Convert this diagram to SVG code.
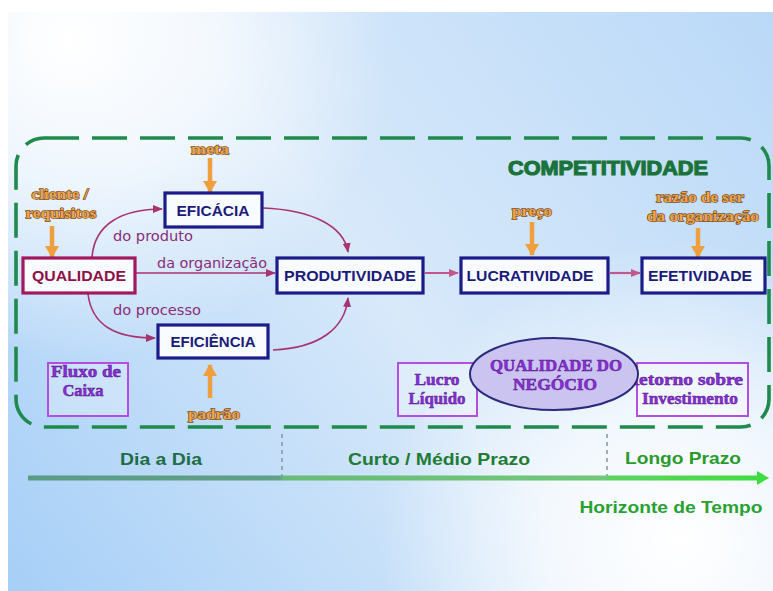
<svg xmlns="http://www.w3.org/2000/svg" width="773" height="591" viewBox="0 0 773 591">
<defs>
<linearGradient id="bg" gradientUnits="userSpaceOnUse" x1="8" y1="591" x2="773" y2="12">
<stop offset="0" stop-color="#a6cff7"/>
<stop offset="0.5" stop-color="#d8e9fa"/>
<stop offset="1" stop-color="#bad9f8"/>
</linearGradient>
<radialGradient id="hl1" gradientUnits="userSpaceOnUse" cx="70" cy="40" r="320">
<stop offset="0" stop-color="#ffffff" stop-opacity="1"/>
<stop offset="0.45" stop-color="#ffffff" stop-opacity="0.7"/>
<stop offset="1" stop-color="#ffffff" stop-opacity="0"/>
</radialGradient>
<radialGradient id="hl2" gradientUnits="userSpaceOnUse" cx="680" cy="540" r="300">
<stop offset="0" stop-color="#ffffff" stop-opacity="1"/>
<stop offset="0.45" stop-color="#ffffff" stop-opacity="0.7"/>
<stop offset="1" stop-color="#ffffff" stop-opacity="0"/>
</radialGradient>
<linearGradient id="axis" gradientUnits="userSpaceOnUse" x1="28" y1="0" x2="768" y2="0">
<stop offset="0" stop-color="#5a9b84"/>
<stop offset="0.34" stop-color="#5fa086"/>
<stop offset="0.345" stop-color="#66bb76"/>
<stop offset="0.78" stop-color="#72c878"/>
<stop offset="0.785" stop-color="#5cd45e"/>
<stop offset="1" stop-color="#3fdc40"/>
</linearGradient>
<marker id="mag" markerUnits="userSpaceOnUse" markerWidth="10" markerHeight="8" refX="9" refY="4" orient="auto">
<path d="M0,0 L10,4 L0,8 Z" fill="#a8336f"/>
</marker>
<marker id="pink" markerUnits="userSpaceOnUse" markerWidth="10" markerHeight="8" refX="9" refY="4" orient="auto">
<path d="M0,0 L10,4 L0,8 Z" fill="#c2578c"/>
</marker>
<marker id="org" markerUnits="userSpaceOnUse" markerWidth="12" markerHeight="14" refX="11" refY="7" orient="auto">
<path d="M0,0 L12,7 L0,14 Z" fill="#ef9f3e"/>
</marker>
<style>
.box{fill:#f8fbff;stroke:#1b1b8a;stroke-width:3.2}
.qbox{fill:#f8fbff;stroke:#a3195e;stroke-width:3.2}
.pbox{fill:#ffffff;fill-opacity:0.25;stroke:#b24fe2;stroke-width:2}
.lbl{font-family:"Liberation Sans",Arial,sans-serif;font-weight:bold;font-size:15.5px;fill:#1b1b7a;text-anchor:middle}
.qlbl{font-family:"Liberation Sans",Arial,sans-serif;font-weight:bold;font-size:15.5px;fill:#8e1246;text-anchor:middle}
.flow{font-family:"DejaVu Sans",Verdana,sans-serif;font-size:14px;fill:#8b2c7c}
.org{font-family:"Liberation Serif","Times New Roman",serif;font-weight:bold;font-size:15px;fill:#f0a548;stroke:#7d4a1c;stroke-width:1.3;paint-order:stroke;text-anchor:middle}
.pur{font-family:"Liberation Serif","Times New Roman",serif;font-weight:bold;font-size:16px;fill:#8a2fd6;stroke:#5a1a90;stroke-width:0.5;text-anchor:middle}
.time{font-family:"Liberation Sans",Arial,sans-serif;font-weight:bold;font-size:17px;text-anchor:middle}
.mline{fill:none;stroke:#a8336f;stroke-width:1.6;marker-end:url(#mag)}
.pline{fill:none;stroke:#c2578c;stroke-width:2.2;marker-end:url(#pink)}
.oline{fill:none;stroke:#ef9f3e;stroke-width:4.5;marker-end:url(#org)}
</style>
</defs>

<rect x="0" y="0" width="773" height="591" fill="#ffffff"/>
<rect x="8" y="12" width="765" height="579" fill="url(#bg)"/>
<rect x="8" y="12" width="765" height="579" fill="url(#hl1)"/>
<rect x="8" y="12" width="765" height="579" fill="url(#hl2)"/>

<g id="competitividade">
<rect x="16" y="138" width="753" height="289" rx="28" ry="28" fill="none" stroke="#1e8a4c" stroke-width="3.6" stroke-dasharray="35 13"/>
<text x="608" y="175" font-family="'Liberation Sans',Arial,sans-serif" font-weight="bold" font-size="21" fill="#1a733a" stroke="#1a733a" stroke-width="1.2" text-anchor="middle" textLength="200" lengthAdjust="spacingAndGlyphs">COMPETITIVIDADE</text>
</g>

<g id="connectors">
<path class="mline" d="M92,258 C94,224 122,209 162,209"/>
<path class="mline" d="M263,208 C312,210 344,226 348,252"/>
<path class="mline" d="M136,273 L275,273"/>
<path class="mline" d="M88,294 C92,326 116,338 155,338"/>
<path class="mline" d="M273,350 C320,348 345,328 348,298"/>
<path class="pline" d="M425,273 L458,273"/>
<path class="pline" d="M610,273 L640,273"/>
<path class="oline" d="M210,158 L210,192"/>
<path class="oline" d="M52,226 L52,257"/>
<path class="oline" d="M532,222 L532,255"/>
<path class="oline" d="M698,228 L698,257"/>
<path class="oline" d="M210,398 L210,365"/>
<text class="flow" x="113" y="241" textLength="80" lengthAdjust="spacingAndGlyphs">do produto</text>
<text class="flow" x="157" y="268" textLength="110" lengthAdjust="spacingAndGlyphs">da organização</text>
<text class="flow" x="113" y="315" textLength="88" lengthAdjust="spacingAndGlyphs">do processo</text>
<text class="org" x="210" y="154" textLength="38" lengthAdjust="spacingAndGlyphs">meta</text>
<text class="org" x="60" y="199" textLength="57" lengthAdjust="spacingAndGlyphs">cliente /</text>
<text class="org" x="61" y="218" textLength="71" lengthAdjust="spacingAndGlyphs">requisitos</text>
<text class="org" x="532" y="216" textLength="40" lengthAdjust="spacingAndGlyphs">preço</text>
<text class="org" x="700" y="202" textLength="88" lengthAdjust="spacingAndGlyphs">razão de ser</text>
<text class="org" x="703" y="221" textLength="112" lengthAdjust="spacingAndGlyphs">da organização</text>
<text class="org" x="214" y="419" textLength="52" lengthAdjust="spacingAndGlyphs">padrão</text>
</g>

<g id="qualidade">
<rect class="qbox" x="23" y="258" width="112" height="35"/>
<text class="qlbl" x="79" y="281" textLength="94" lengthAdjust="spacingAndGlyphs">QUALIDADE</text>
</g>
<g id="eficacia">
<rect class="box" x="165" y="193" width="97" height="34"/>
<text class="lbl" x="213" y="216" textLength="73" lengthAdjust="spacingAndGlyphs">EFICÁCIA</text>
</g>
<g id="eficiencia">
<rect class="box" x="158" y="325" width="110" height="33"/>
<text class="lbl" x="213" y="347" textLength="85" lengthAdjust="spacingAndGlyphs">EFICIÊNCIA</text>
</g>
<g id="produtividade">
<rect class="box" x="277" y="258" width="146" height="35"/>
<text class="lbl" x="350" y="281" textLength="132" lengthAdjust="spacingAndGlyphs">PRODUTIVIDADE</text>
</g>
<g id="lucratividade">
<rect class="box" x="461" y="258" width="147" height="35"/>
<text class="lbl" x="530" y="281" textLength="127" lengthAdjust="spacingAndGlyphs">LUCRATIVIDADE</text>
</g>
<g id="efetividade">
<rect class="box" x="642" y="258" width="123" height="35"/>
<text class="lbl" x="700" y="281" textLength="104" lengthAdjust="spacingAndGlyphs">EFETIVIDADE</text>
</g>

<g id="fluxo-caixa">
<rect class="pbox" x="48" y="363" width="80" height="53"/>
<text class="pur" x="86" y="377" textLength="70" lengthAdjust="spacingAndGlyphs">Fluxo de</text>
<text class="pur" x="83" y="396" textLength="41" lengthAdjust="spacingAndGlyphs">Caixa</text>
</g>
<g id="lucro-liquido">
<rect class="pbox" x="398" y="363" width="79" height="53"/>
<text class="pur" x="437" y="385" textLength="45" lengthAdjust="spacingAndGlyphs">Lucro</text>
<text class="pur" x="437" y="404" textLength="57" lengthAdjust="spacingAndGlyphs">Líquido</text>
</g>
<g id="retorno-investimento">
<rect class="pbox" x="637" y="363" width="111" height="53"/>
<text class="pur" x="684" y="385" textLength="118" lengthAdjust="spacingAndGlyphs">Retorno sobre</text>
<text class="pur" x="690" y="404" textLength="96" lengthAdjust="spacingAndGlyphs">Investimento</text>
</g>
<g id="qualidade-negocio">
<ellipse cx="554" cy="374" rx="84" ry="36" fill="#cbc4f1" stroke="#2a2a7c" stroke-width="2"/>
<text class="pur" x="556" y="371" textLength="132" lengthAdjust="spacingAndGlyphs">QUALIDADE DO</text>
<text class="pur" x="555" y="390" textLength="84" lengthAdjust="spacingAndGlyphs">NEGÓCIO</text>
</g>

<g id="timeline">
<line x1="282" y1="434" x2="282" y2="478" stroke="#8c9aa4" stroke-width="1.6" stroke-dasharray="4 4"/>
<line x1="607" y1="434" x2="607" y2="478" stroke="#8c9aa4" stroke-width="1.6" stroke-dasharray="4 4"/>
<line x1="28" y1="478" x2="758" y2="478" stroke="url(#axis)" stroke-width="5"/>
<path d="M757,471 L769,478 L757,485 Z" fill="#3fdc40"/>
<text class="time" x="161" y="465" fill="#1f6c48" textLength="82" lengthAdjust="spacingAndGlyphs">Dia a Dia</text>
<text class="time" x="439" y="465" fill="#217a36" textLength="182" lengthAdjust="spacingAndGlyphs">Curto / Médio Prazo</text>
<text class="time" x="683" y="464" fill="#2a9a2e" textLength="116" lengthAdjust="spacingAndGlyphs">Longo Prazo</text>
<text class="time" x="671" y="513" fill="#27a232" textLength="183" lengthAdjust="spacingAndGlyphs">Horizonte de Tempo</text>
</g>
</svg>
